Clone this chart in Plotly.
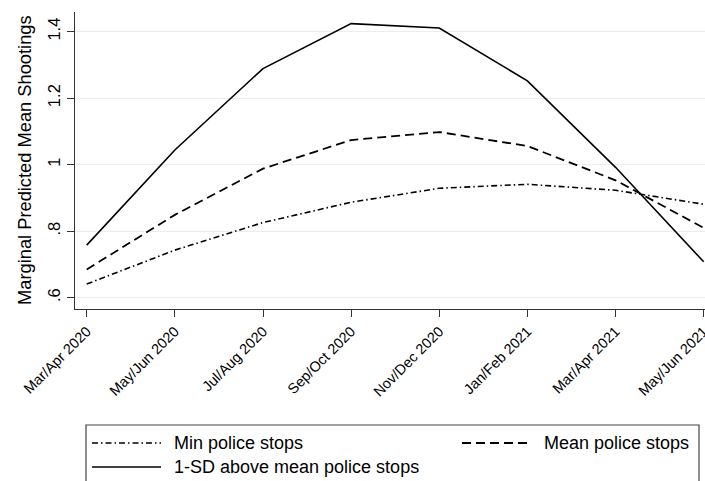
import plotly.graph_objects as go

periods = ["Mar/Apr 2020", "May/Jun 2020", "Jul/Aug 2020", "Sep/Oct 2020",
           "Nov/Dec 2020", "Jan/Feb 2021", "Mar/Apr 2021", "May/Jun 2021"]
min_stops = [0.641, 0.743, 0.826, 0.887, 0.929, 0.941, 0.923, 0.881]
mean_stops = [0.685, 0.849, 0.988, 1.074, 1.098, 1.056, 0.953, 0.810]
sd_above_stops = [0.758, 1.044, 1.289, 1.424, 1.411, 1.252, 0.992, 0.708]
y_tick_vals = [0.6, 0.8, 1.0, 1.2, 1.4]
y_tick_text = [".6", ".8", "1", "1.2", "1.4"]
series_names = ["Min police stops", "Mean police stops", "1-SD above mean police stops"]

FONT = "Liberation Sans, Arial, sans-serif"
W, H = 705, 481
ML, MR, MT, MB = 75, 0, 12, 172
PW, PH = W - ML - MR, H - MT - MB

def px(x):
    return (x - ML) / PW

def py(y):
    return (H - MB - y) / PH

xs = list(range(len(periods)))
styles = [dict(dash="6px,3px,1.5px,3px", width=1.6),
          dict(dash="9px,5px", width=1.8),
          dict(dash="solid", width=1.6)]
series = [min_stops, mean_stops, sd_above_stops]

fig = go.Figure()
for name, vals, st in zip(series_names, series, styles):
    fig.add_trace(go.Scatter(x=xs, y=vals, mode="lines", name=name,
                             line=dict(color="black", **st), showlegend=False))

fig.update_layout(
    width=W, height=H,
    margin=dict(l=ML, r=MR, t=MT, b=MB, pad=0, autoexpand=False),
    paper_bgcolor="white", plot_bgcolor="white",
    font=dict(family=FONT, color="black"),
    xaxis=dict(range=[-0.133, 7.015], tickvals=xs, ticktext=periods, tickangle=-45,
               showline=True, linecolor="#333", linewidth=1.3, ticks="outside",
               ticklen=7, tickcolor="#333", tickwidth=1.3, showgrid=False, zeroline=False,
               ticklabeloverflow="allow", automargin=False,
               tickfont=dict(size=14.5, family=FONT, color="black")),
    yaxis=dict(range=[0.566, 1.459], tickvals=y_tick_vals, ticktext=y_tick_text, tickangle=-90,
               showline=True, linecolor="#333", linewidth=1.3, ticks="outside",
               ticklen=7, tickcolor="#333", tickwidth=1.3, showgrid=True,
               gridcolor="#e9eff1", gridwidth=1, zeroline=False, automargin=False,
               tickfont=dict(size=16.5, family=FONT, color="black")),
)

annotations = [dict(text="Marginal Predicted Mean Shootings", x=px(24), y=py(160),
                    xref="paper", yref="paper", textangle=-90, showarrow=False,
                    xanchor="center", yanchor="middle",
                    font=dict(size=18.3, family=FONT, color="black"))]
shapes = [dict(type="rect", xref="paper", yref="paper", x0=px(86), x1=px(699),
               y0=py(425), y1=py(490), line=dict(color="#444", width=1.2),
               fillcolor="rgba(0,0,0,0)", layer="above")]

legend_pos = [(92, 161, 172, 443), (462, 527, 542, 443), (92, 161, 172, 467)]
for name, st, (lx0, lx1, tx, ly) in zip(series_names, styles, legend_pos):
    shapes.append(dict(type="line", xref="paper", yref="paper", x0=px(lx0), x1=px(lx1),
                       y0=py(ly), y1=py(ly), line=dict(color="black", **st)))
    annotations.append(dict(text=name, x=px(tx), y=py(ly), xref="paper", yref="paper",
                            showarrow=False, xanchor="left", yanchor="middle",
                            font=dict(size=18, family=FONT, color="black")))

fig.update_layout(annotations=annotations, shapes=shapes)
fig.write_html("out.html", config={"displayModeBar": False},
               post_script="document.body.style.margin='0';document.body.style.padding='0';")
